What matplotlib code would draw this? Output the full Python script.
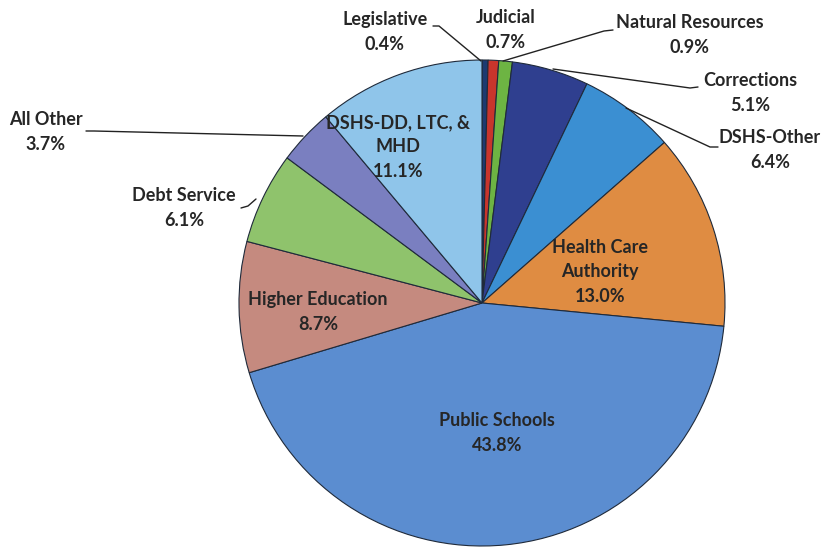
import matplotlib.pyplot as plt

# Budget shares by area, clockwise from the top of the pie
categories = ["Legislative", "Judicial", "Natural Resources", "Corrections",
              "DSHS-Other", "Health Care Authority", "Public Schools",
              "Higher Education", "Debt Service", "All Other",
              "DSHS-DD, LTC, & MHD"]
shares = [0.4, 0.7, 0.9, 5.1, 6.4, 13.0, 43.8, 8.7, 6.1, 3.7, 11.1]
colors = ["#1d3a70", "#c8352c", "#6db443", "#2f3f8f", "#3b8fd2", "#df8c42",
          "#5b8dd0", "#c58a7f", "#8fc36c", "#7a7fc0", "#8fc5ea"]

W, H = 824, 549
fig = plt.figure(figsize=(W / 100, H / 100), dpi=100)
ax = fig.add_axes([0, 0, 1, 1])

cx, cy, r = 482, H - 303, 243
ax.pie(shares, colors=colors, startangle=90, counterclock=False,
       center=(cx, cy), radius=r, frame=True,
       wedgeprops=dict(edgecolor="#1f2a3a", linewidth=0.8))
ax.set_xlim(0, W)
ax.set_ylim(0, H)
ax.set_aspect("equal")
ax.axis("off")

font = dict(family="Lato", fontweight="bold", fontsize=13, color="#262626",
            ha="center", va="center", linespacing=1.55)

def lab(text, x, y):
    ax.text(x, H - y, text, **font)

def leader(points):
    xs = [p[0] for p in points]
    ys = [H - p[1] for p in points]
    ax.plot(xs, ys, color="#222222", lw=1.0, solid_capstyle="round")

# outside labels
lab(f"{categories[0]}\n{shares[0]:.1f}%", 385, 32)
lab(f"{categories[1]}\n{shares[1]:.1f}%", 506, 30)
lab(f"{categories[2]}\n{shares[2]:.1f}%", 690, 35)
lab(f"{categories[3]}\n{shares[3]:.1f}%", 750, 93)
lab(f"{categories[4]}\n{shares[4]:.1f}%", 770, 150)
lab(f"{categories[9]}\n{shares[9]:.1f}%", 46, 132)
lab(f"{categories[8]}\n{shares[8]:.1f}%", 184, 208)

# inside labels
lab("DSHS-DD, LTC, &\nMHD\n" + f"{shares[10]:.1f}%", 398, 147)
lab("Health Care\nAuthority\n" + f"{shares[5]:.1f}%", 600, 272)
lab(f"{categories[7]}\n{shares[7]:.1f}%", 318, 312)
lab(f"{categories[6]}\n{shares[6]:.1f}%", 497, 433)

# leader lines
leader([(433, 26), (439, 26), (481, 61)])
leader([(613, 30), (604, 31), (503, 61)])
leader([(698, 87), (690, 88), (553, 69)])
leader([(718, 147), (710, 147), (626, 108)])
leader([(86, 131), (94, 131), (303, 136)])
leader([(241, 208), (248, 206), (256, 199)])

fig.savefig("out.png", dpi=100, facecolor="white")
